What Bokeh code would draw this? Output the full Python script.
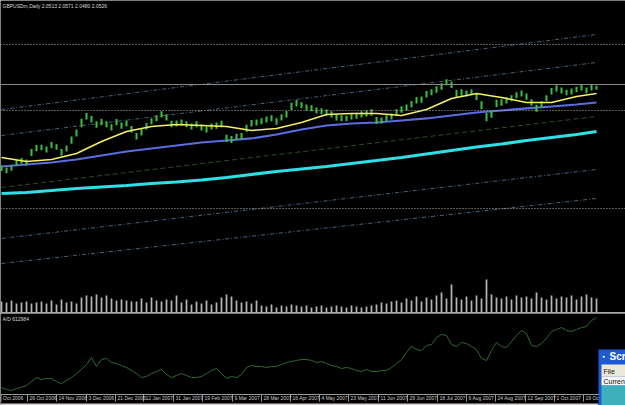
from bokeh.plotting import figure
from bokeh.layouts import column
from bokeh.models import Range1d, Span, Label, BoxAnnotation
from bokeh.core.properties import value
from bokeh.embed import file_html
from bokeh.resources import INLINE

FONT = "Liberation Sans Narrow, Liberation Sans"

# ---------------- data ----------------
symbol_title = "GBPUSDm,Daily 2.0513 2.0571 2.0480 2.0526"
ad_title = "A/D 612984"

bar_index = list(range(120))
bar_high = [1.873, 1.868, 1.874, 1.886, 1.890, 1.887, 1.911, 1.920, 1.921, 1.917,
            1.927, 1.922, 1.911, 1.919, 1.940, 1.956, 1.981, 1.994, 1.987, 1.975,
            1.980, 1.975, 1.968, 1.980, 1.972, 1.977, 1.964, 1.948, 1.957, 1.971,
            1.982, 1.989, 1.998, 1.991, 1.976, 1.977, 1.979, 1.975, 1.970, 1.975,
            1.968, 1.963, 1.970, 1.972, 1.976, 1.944, 1.941, 1.946, 1.948, 1.967,
            1.978, 1.979, 1.982, 1.986, 1.989, 1.982, 1.991, 1.999, 2.018, 2.024,
            2.019, 2.014, 2.012, 2.007, 2.005, 2.002, 1.998, 1.991, 1.989, 1.988,
            1.993, 1.995, 1.998, 2.000, 2.003, 1.985, 1.984, 1.989, 1.993, 2.003,
            2.010, 2.014, 2.022, 2.031, 2.032, 2.045, 2.049, 2.056, 2.063, 2.072,
            2.067, 2.047, 2.049, 2.046, 2.049, 2.040, 2.021, 1.994, 1.999, 2.025,
            2.026, 2.030, 2.035, 2.042, 2.046, 2.039, 2.026, 2.013, 2.021, 2.035,
            2.052, 2.058, 2.053, 2.048, 2.051, 2.055, 2.060, 2.053, 2.060, 2.0571]
bar_low = [1.860, 1.855, 1.861, 1.872, 1.877, 1.873, 1.895, 1.906, 1.908, 1.903,
           1.913, 1.909, 1.896, 1.905, 1.923, 1.940, 1.961, 1.979, 1.972, 1.960,
           1.966, 1.961, 1.954, 1.966, 1.958, 1.963, 1.949, 1.933, 1.942, 1.956,
           1.968, 1.975, 1.984, 1.977, 1.961, 1.963, 1.965, 1.961, 1.956, 1.961,
           1.954, 1.949, 1.956, 1.958, 1.961, 1.927, 1.925, 1.931, 1.933, 1.951,
           1.963, 1.965, 1.968, 1.972, 1.975, 1.967, 1.977, 1.984, 2.001, 2.009,
           2.005, 2.000, 1.998, 1.993, 1.991, 1.988, 1.984, 1.977, 1.975, 1.975,
           1.979, 1.981, 1.984, 1.986, 1.988, 1.969, 1.970, 1.975, 1.979, 1.988,
           1.995, 2.000, 2.007, 2.016, 2.018, 2.030, 2.035, 2.041, 2.048, 2.058,
           2.052, 2.029, 2.034, 2.032, 2.035, 2.024, 2.003, 1.975, 1.983, 2.008,
           2.011, 2.016, 2.021, 2.028, 2.032, 2.025, 2.011, 1.997, 2.007, 2.021,
           2.037, 2.044, 2.039, 2.035, 2.037, 2.042, 2.046, 2.040, 2.046, 2.0480]

# tick volume, thousands
volume_k = [11, 10, 12, 9, 10, 11, 9, 10, 11, 9,
            12, 8, 13, 10, 11, 9, 15, 17, 16, 18,
            15, 17, 14, 12, 13, 12, 11, 11, 14, 10,
            15, 12, 11, 13, 12, 17, 10, 13, 8, 11,
            9, 12, 8, 10, 15, 18, 16, 12, 10, 11,
            9, 12, 7, 6, 8, 5, 7, 6, 8, 7,
            6, 7, 5, 6, 7, 5, 6, 7, 6, 5,
            7, 6, 5, 6, 7, 8, 10, 9, 11, 12,
            10, 14, 12, 16, 11, 15, 13, 17, 20, 14,
            28, 15, 13, 16, 12, 17, 14, 33, 18, 15,
            14, 16, 13, 17, 15, 16, 14, 20, 15, 13,
            17, 14, 16, 15, 17, 13, 16, 18, 15, 14]

# moving averages sampled every 5 bars
ma_index = [0, 5, 10, 15, 20, 25, 30, 35, 40, 45, 50, 55, 60, 65, 70, 75,
            80, 85, 90, 95, 100, 105, 110, 115, 119]
ma_fast = [1.8914, 1.8821, 1.8867, 1.9006, 1.9283, 1.9514, 1.9630, 1.9676, 1.9653,
           1.9630, 1.9537, 1.9584, 1.9722, 1.9907, 1.9930, 1.9930, 1.9884, 2.0022,
           2.0277, 2.0392, 2.0300, 2.0184, 2.0184, 2.0323, 2.0392]
ma_mid = [1.8706, 1.8752, 1.8798, 1.8867, 1.8960, 1.9052, 1.9122, 1.9191, 1.9260,
          1.9306, 1.9353, 1.9445, 1.9560, 1.9653, 1.9699, 1.9722, 1.9768, 1.9815,
          1.9884, 1.9953, 1.9999, 2.0046, 2.0092, 2.0138, 2.0184]
ma_slow = [1.8082, 1.8105, 1.8151, 1.8198, 1.8232, 1.8267, 1.8313, 1.8348, 1.8394,
           1.8452, 1.8521, 1.8590, 1.8648, 1.8706, 1.8775, 1.8844, 1.8914, 1.8995,
           1.9075, 1.9156, 1.9226, 1.9306, 1.9376, 1.9445, 1.9514]

# regression channel: value at first and last bar
channel_start = [2.0022, 1.9422, 1.8221, 1.7043, 1.6465]
channel_end = [2.1755, 2.1108, 1.9861, 1.8637, 1.7967]

# horizontal levels
dotted_levels = [2.1524, 2.0000, 1.7736]
solid_level = 2.0600

# accumulation / distribution, thousands
ad_k = [-17, -35, -44, -26, -17, 1, 37, 73, 55, 64,
        64, 37, 19, 46, 73, 109, 145, 190, 253, 172,
        235, 244, 208, 199, 181, 163, 136, 109, 73, 82,
        109, 127, 145, 100, 73, 91, 109, 91, 73, 73,
        82, 109, 136, 154, 109, 64, 82, 73, 100, 163,
        181, 172, 172, 163, 172, 172, 190, 208, 217, 226,
        235, 235, 226, 208, 217, 199, 181, 172, 154, 163,
        154, 136, 127, 145, 127, 127, 136, 136, 163, 199,
        235, 298, 352, 325, 316, 361, 370, 433, 460, 451,
        370, 352, 388, 379, 352, 325, 244, 226, 316, 388,
        352, 343, 397, 451, 496, 469, 361, 352, 379, 424,
        487, 505, 523, 496, 487, 505, 523, 532, 586, 612.984]

date_ticks = [-0.1, 5.2, 11.0, 17.0, 22.8, 28.4, 34.4, 40.2, 46.2, 52.0, 57.8,
              63.6, 69.4, 75.4, 81.2, 87.2, 93.0, 98.8, 104.8, 110.6, 116.4]
date_labels = ["Oct 2006", "26 Oct 2006", "14 Nov 2006", "3 Dec 2006", "21 Dec 2006",
               "12 Jan 2007", "31 Jan 2007", "19 Feb 2007", "9 Mar 2007", "28 Mar 2007",
               "16 Apr 2007", "4 May 2007", "23 May 2007", "11 Jun 2007", "29 Jun 2007",
               "18 Jul 2007", "6 Aug 2007", "24 Aug 2007", "12 Sep 2007", "1 Oct 2007",
               "19 Oct 2007"]

# ---------------- main price window ----------------
W = 625
x_range = Range1d(-0.2, 124.8)

p = figure(width=W, height=313, x_range=x_range, y_range=Range1d(1.531, 2.254),
           output_backend="svg", toolbar_location=None, min_border=0,
           x_axis_location=None, y_axis_location=None,
           background_fill_color="black", border_fill_color="black",
           outline_line_color=None)
p.grid.visible = False
p.extra_y_ranges = {"vol": Range1d(-1, 312)}

for lv in dotted_levels:
    p.add_layout(Span(location=lv, dimension="width", line_color="#b8b8b8",
                      line_dash="1 2", line_width=1))
p.add_layout(Span(location=solid_level, dimension="width", line_color="#8a8a8a",
                  line_width=1))

first = [bar_index[0]] * len(channel_start)
last = [bar_index[-1]] * len(channel_start)
chan_colors = ["#46627c", "#46627c", "#284f28", "#46627c", "#46627c"]
chan_dash = ["4 2 1 2", "4 2 1 2", "5 3", "4 2 1 2", "4 2 1 2"]
for i in range(len(channel_start)):
    p.line([first[i], last[i]], [channel_start[i], channel_end[i]],
           line_color=chan_colors[i], line_dash=chan_dash[i], line_width=1)

p.vbar(x=bar_index, top=volume_k, width=0.35, y_range_name="vol",
       fill_color="#b4b4b4", line_color=None)
p.add_layout(Span(location=-0.5, dimension="width", line_color="#a8a8a8",
                  line_width=2, y_range_name="vol"))

p.line(ma_index, ma_slow, line_color="#2ee0e6", line_width=3.2)
p.line(ma_index, ma_mid, line_color="#5a6ce0", line_width=2.2)
p.segment(x0=bar_index, y0=bar_low, x1=bar_index, y1=bar_high,
          line_color="#3dbf3d", line_width=2.0)
p.line(ma_index, ma_fast, line_color="#f4f060", line_width=1.6)

p.add_layout(Label(x=2, y=311, x_units="screen", y_units="screen", text=symbol_title,
                   text_baseline="top", text_font=FONT, text_font_size="5px",
                   text_color="#d8d8d8"))

# ---------------- A/D window with its date scale ----------------
# the panel is 92 px tall; 1 px = 9 (thousand) A/D units
axis_level = -80
tick_bottom = -143
p2 = figure(width=W, height=92, x_range=x_range, y_range=Range1d(-179, 649),
            output_backend="svg", toolbar_location=None, min_border=0,
            x_axis_location=None, y_axis_location=None,
            background_fill_color="black", border_fill_color="black",
            outline_line_color=None)
p2.grid.visible = False
p2.line(bar_index, ad_k, line_color="#2e6a2e", line_width=1)

p2.add_layout(Span(location=axis_level, dimension="width", line_color="#9a9a9a",
                   line_width=1))
p2.segment(x0=date_ticks, y0=[axis_level] * len(date_ticks),
           x1=date_ticks, y1=[tick_bottom] * len(date_ticks),
           line_color="#9a9a9a", line_width=1)
p2.text(x=date_ticks, y=[axis_level] * len(date_ticks), text=date_labels,
        x_offset=2, text_align="left", text_baseline="top",
        text_font=value(FONT), text_font_size="5px", text_color="#c8c8c8")

p2.add_layout(Label(x=2, y=90, x_units="screen", y_units="screen", text=ad_title,
                    text_baseline="top", text_font=FONT, text_font_size="5px",
                    text_color="#d8d8d8"))

# bottom tab strip and the overlapping window at the lower right
def box(l, r, t, b, color):
    return BoxAnnotation(left=l, right=r, top=t, bottom=b,
                         left_units="screen", right_units="screen",
                         top_units="screen", bottom_units="screen",
                         fill_color=color, fill_alpha=1, line_color=None)

p2.add_layout(box(0, 598, 2, 0, "#d6d3cc"))
p2.add_layout(box(598, 625, 56, 0, "#1f5ad6"))
p2.add_layout(box(601, 625, 41, 29, "#ece9d8"))
p2.add_layout(box(601, 625, 29, 20, "#f6f6f2"))
p2.add_layout(box(601, 625, 20, 0, "#3eb0bc"))
p2.add_layout(Label(x=602, y=49, x_units="screen", y_units="screen", text="▪",
                    text_baseline="middle", text_font_size="7px", text_color="#ffffff"))
p2.add_layout(Label(x=609, y=49, x_units="screen", y_units="screen", text="Scr",
                    text_baseline="middle", text_font="Liberation Sans",
                    text_font_size="10px", text_font_style="bold", text_color="#ffffff"))
p2.add_layout(Label(x=603, y=34, x_units="screen", y_units="screen", text="File",
                    text_baseline="middle", text_font="Liberation Sans",
                    text_font_size="7px", text_color="#111111"))
p2.add_layout(Label(x=603, y=24, x_units="screen", y_units="screen", text="Curren",
                    text_baseline="middle", text_font="Liberation Sans",
                    text_font_size="7px", text_color="#111111"))

layout = column(p, p2, spacing=0)
open("out.html", "w").write(file_html(layout, INLINE))
